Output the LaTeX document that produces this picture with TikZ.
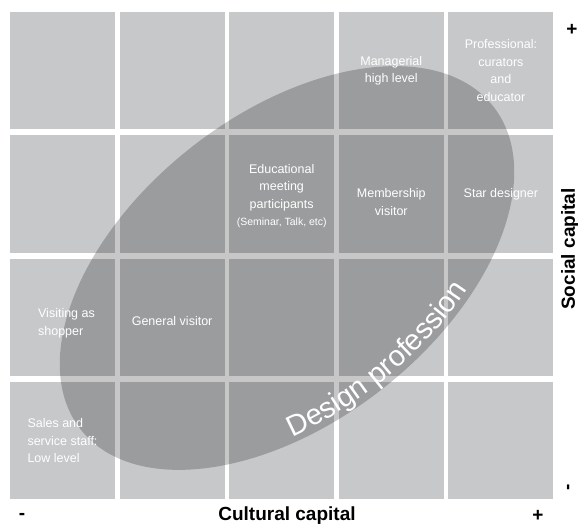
\documentclass[tikz,border=0pt]{standalone}
\usepackage{fontspec}
\setmainfont{Liberation Sans}
\usetikzlibrary{decorations.text}
\definecolor{cellgray}{RGB}{199,200,202}
\tikzset{
  cell/.style={fill=cellgray, minimum width=105pt, minimum height=117.5pt, inner sep=0pt},
  lbl/.style={text=white, font=\fontsize{12.5}{17.5}\selectfont, align=center},
  axislbl/.style={font=\fontsize{19}{22}\selectfont\bfseries, inner sep=0pt},
}

\begin{document}
\begin{tikzpicture}[x=1pt,y=-1pt]
  \useasboundingbox (0,0) rectangle (578,526);
  % 5 x 4 grid of cells
  \foreach \i in {1,...,5}
    \foreach \j in {1,...,4}
      \node[cell] (c\i\j) at ({62.5+109.6*(\i-1)},{70.75+123.3*(\j-1)}) {};
  % shaded area
  \coordinate (ctr) at (287,268);
  \fill[black, opacity=0.22, rotate around={38:(ctr)}] (ctr) ellipse [x radius=262, y radius=154];
  % its name, written along the lower rim
  \path[rotate around={38:(ctr)}, decorate,
    decoration={text along path, text align=center, text color=white,
      text={|\fontsize{29}{31}\selectfont|Design profession}}]
    (ctr) ++(126:256 and 148) arc[start angle=126, end angle=46, x radius=256, y radius=148];
  % cell labels
  \node[lbl] (mgr) at (c41) {Managerial\\high level};
  \node[lbl] (pro) at (c51) {Professional:\\curators\\and\\educator};
  \node[lbl, yshift=-2pt] (edu) at (c32) {Educational\\meeting\\participants\\{\fontsize{10.5}{16}\selectfont(Seminar, Talk, etc)}};
  \node[lbl, yshift=-8pt] (mem) at (c42) {Membership\\visitor};
  \node[lbl] (star) at (c52) {Star designer};
  \node[lbl, align=left, xshift=4pt, yshift=-6pt] (shop) at (c13) {Visiting as\\shopper};
  \node[lbl, yshift=-4pt] (gen) at (c23) {General visitor};
  \node[lbl, align=left] (sales) at (c14) {Sales and\\service staff:\\Low level};
  % axes
  \node[axislbl] (cult) at (287,516) {Cultural capital};
  \node[axislbl, rotate=90] (soc) at (570,249) {Social capital};
  \node[axislbl] (xmin) at (22,516) {-};
  \node[axislbl] (xmax) at (538,516) {+};
  \node[axislbl] (ymax) at (572,30) {+};
  \node[axislbl, rotate=90] (ymin) at (570,487) {-};
\end{tikzpicture}
\end{document}
